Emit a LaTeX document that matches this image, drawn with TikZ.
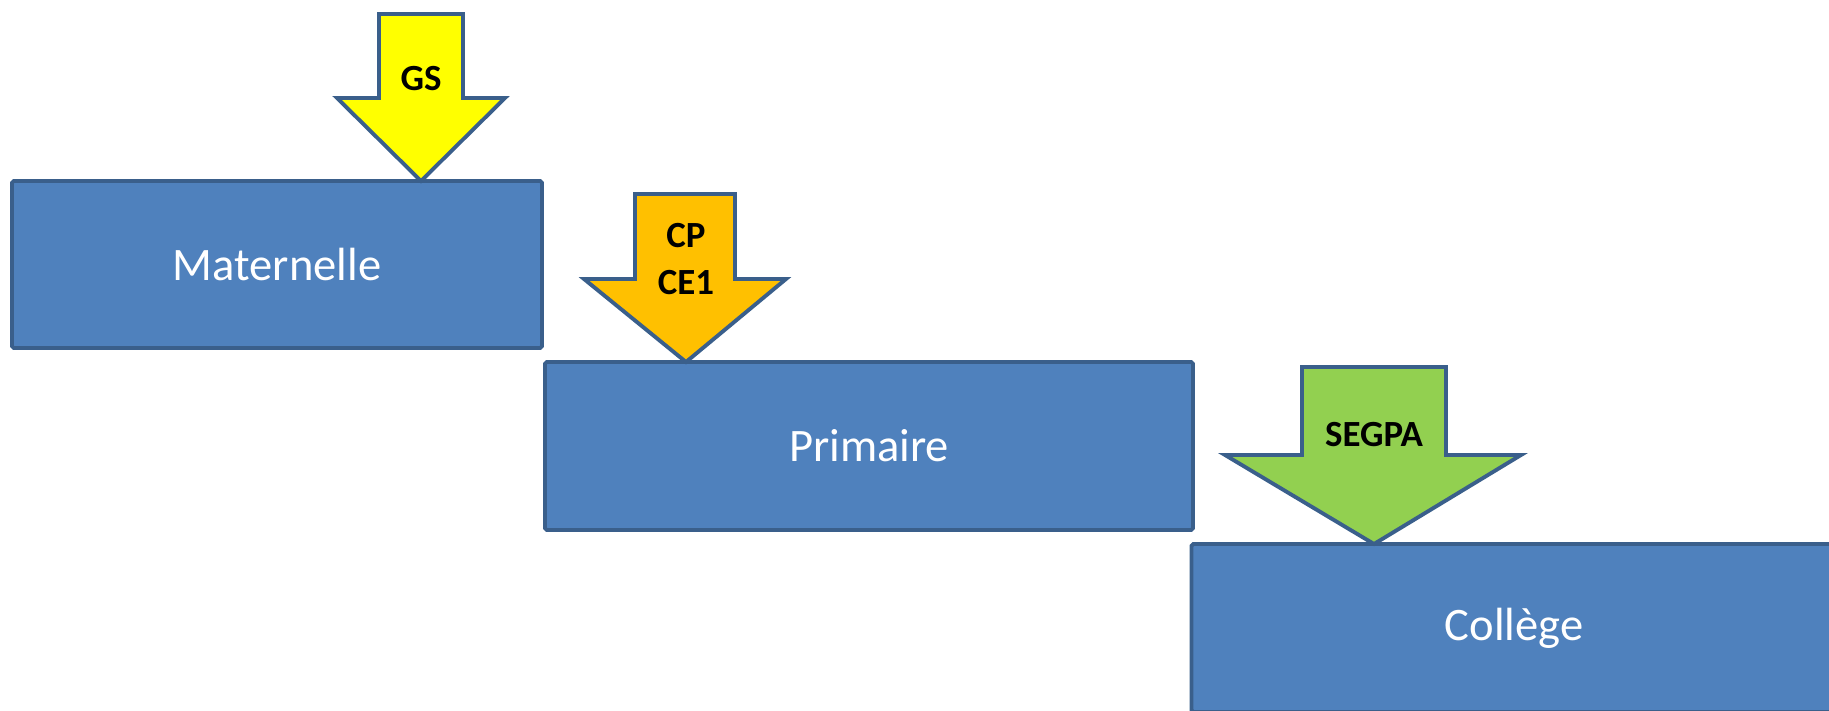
\documentclass[tikz,border=0pt]{standalone}
\usepackage{fontspec}
\setmainfont{Carlito}
\usepackage{xcolor}
\usetikzlibrary{positioning}
\definecolor{stageblue}{HTML}{4F81BD}
\definecolor{stageline}{HTML}{3A5F8B}
\definecolor{gsyellow}{HTML}{FFFF00}
\definecolor{cporange}{HTML}{FFC000}
\definecolor{segpagreen}{HTML}{92D050}
\tikzset{
	stage/.style={
			draw=stageline,
			fill=stageblue,
			line width=2.2pt,
			rounded corners=1pt,
			text=white,
			font=\fontsize{26.5}{32}\selectfont
		},
	entry/.style={
			draw=stageline,
			line width=2.2pt,
			line join=miter
		},
	entrylabel/.style={
			align=center,
			font=\fontsize{21}{27}\selectfont\bfseries
		}
}

\begin{document}
\begin{tikzpicture}
			\useasboundingbox (0,0) rectangle (36.58,14.2);

			\node[stage, minimum width=10.6cm, minimum height=3.34cm] at (5.54,8.91) (mat) {Maternelle};
			\node[stage, minimum width=12.96cm, minimum height=3.36cm] at (17.38,5.28) (prim) {Primaire};
			\node[stage, minimum width=12.9cm, minimum height=3.36cm] at (30.28,1.64) (col) {Collège};

			% arrows
			\draw[entry, fill=gsyellow] (7.58,13.92) -- (9.26,13.92) -- (9.26,12.24) -- (10.10,12.24) -- (8.42,10.58) -- (6.74,12.24) -- (7.58,12.24) -- cycle;
			\node[entrylabel] at (8.42,12.62) (gs) {GS};

			\draw[entry, fill=cporange] (12.70,10.32) -- (14.70,10.32) -- (14.70,8.62) -- (15.72,8.62) -- (13.72,6.96) -- (11.68,8.62) -- (12.70,8.62) -- cycle;
			\node[entrylabel] at (13.72,9.02) (cp) {CP\\CE1};

			\draw[entry, fill=segpagreen] (26.04,6.86) -- (28.92,6.86) -- (28.92,5.10) -- (30.42,5.10) -- (27.48,3.32) -- (24.50,5.10) -- (26.04,5.10) -- cycle;
			\node[entrylabel] at (27.48,5.50) (segpa) {SEGPA};
		\end{tikzpicture}
\end{document}
